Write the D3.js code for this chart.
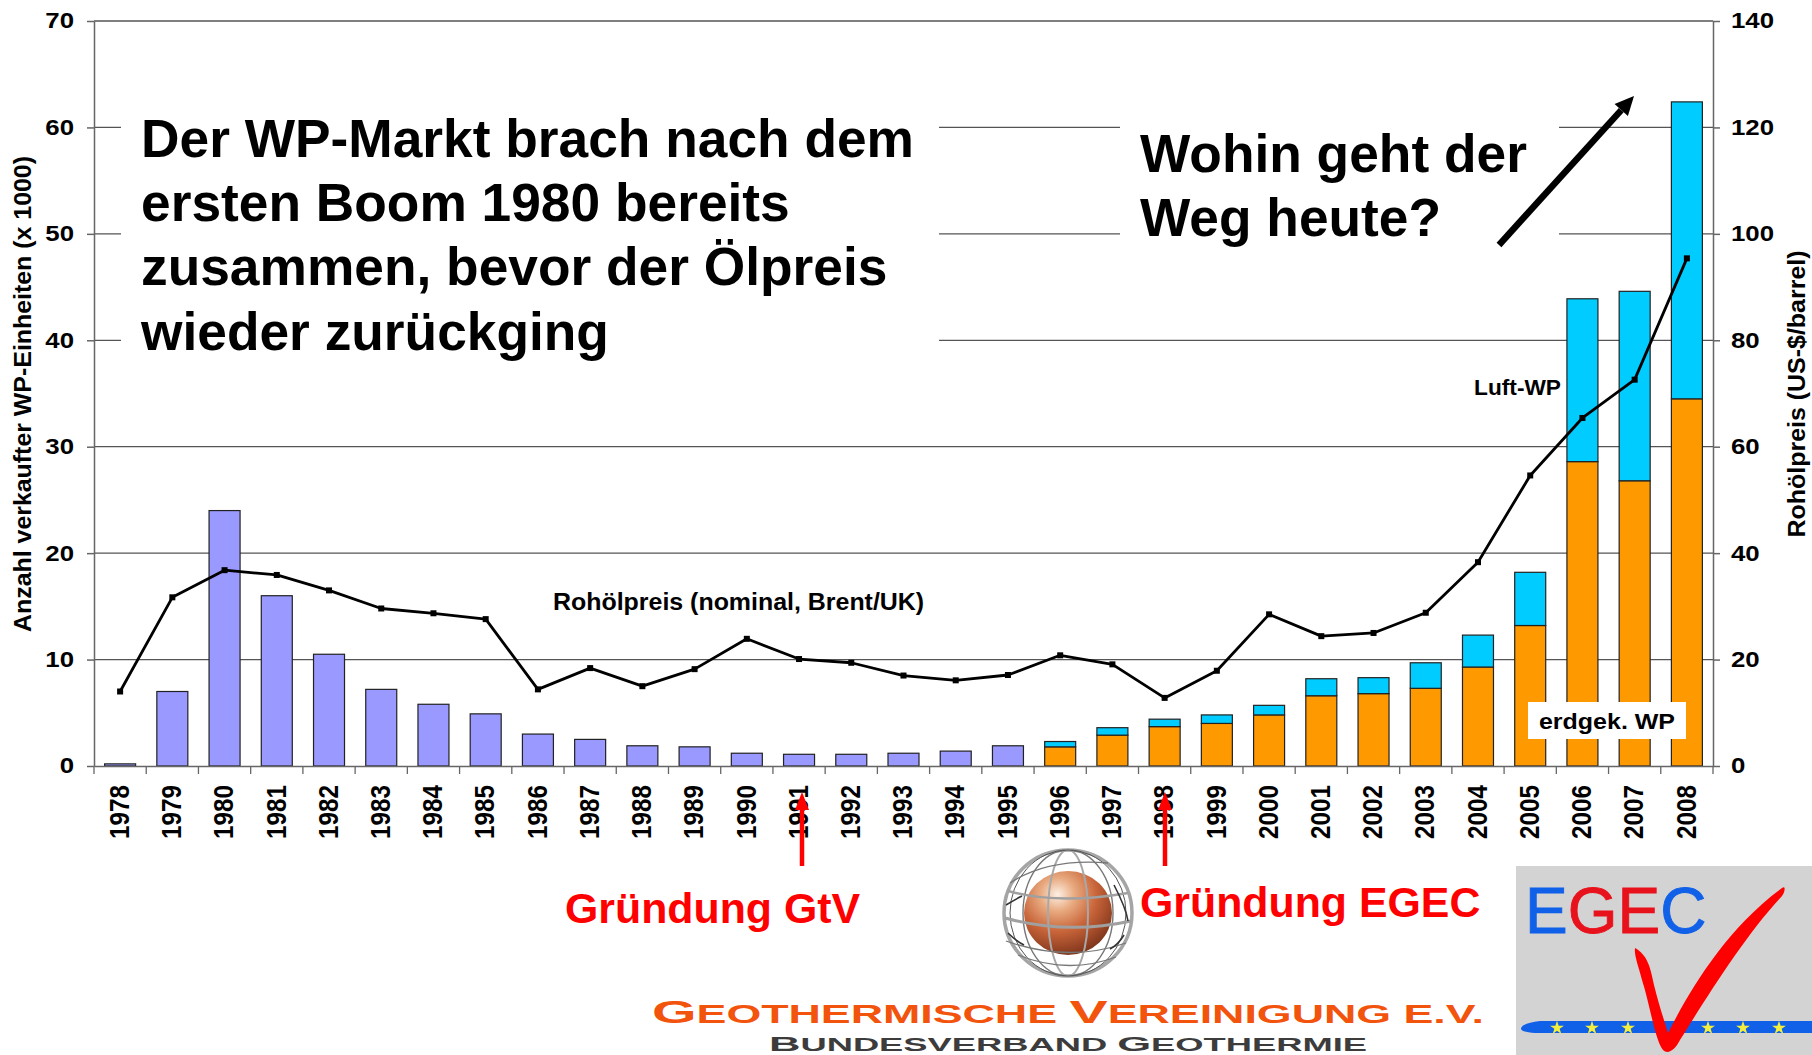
<!DOCTYPE html>
<html><head><meta charset="utf-8">
<script src="https://cdn.jsdelivr.net/npm/d3@7/dist/d3.min.js"></script>
<style>html,body{margin:0;padding:0;background:#fff}svg{display:block}text{font-family:"Liberation Sans",Arial,sans-serif}</style>
</head><body><svg id="c" width="1812" height="1055"></svg>
<script>
const years=["1978","1979","1980","1981","1982","1983","1984","1985","1986","1987","1988","1989","1990","1991","1992","1993","1994","1995","1996","1997","1998","1999","2000","2001","2002","2003","2004","2005","2006","2007","2008"];
const earlyUnits=[0.2,7.0,24.0,16.0,10.5,7.2,5.8,4.9,3.0,2.5,1.9,1.8,1.2,1.1,1.1,1.2,1.4,1.9,0,0,0,0,0,0,0,0,0,0,0,0,0];
const groundSource=[0,0,0,0,0,0,0,0,0,0,0,0,0,0,0,0,0,0,1.8,2.9,3.7,4.0,4.8,6.6,6.8,7.3,9.3,13.2,28.6,26.8,34.5];
const airSource=[0,0,0,0,0,0,0,0,0,0,0,0,0,0,0,0,0,0,0.5,0.7,0.7,0.8,0.9,1.6,1.5,2.4,3.0,5.0,15.3,17.8,27.9];
const oilPrice=[14.0,31.7,36.8,35.9,33.0,29.6,28.7,27.6,14.4,18.4,15.0,18.2,23.9,20.1,19.4,17.0,16.1,17.1,20.8,19.1,12.8,17.9,28.5,24.4,25.0,28.8,38.3,54.6,65.4,72.6,95.4];
const leftTicks=[0,10,20,30,40,50,60,70];
const rightTicks=[0,20,40,60,80,100,120,140];
const stars=[0,1,2,3,4,5];

const L=94,R=1713,T=21,B=766;
const svg=d3.select("#c");
const x=d3.scaleBand().domain(years).range([L,R]).paddingInner(0.405).paddingOuter(0.2);
const step=(R-L)/years.length;
const xc=y=>L+step*(years.indexOf(y)+0.5);
const yL=d3.scaleLinear().domain([0,70]).range([B,T]);
const yR=d3.scaleLinear().domain([0,140]).range([B,T]);
const barW=31;
function stretch(sel,k){sel.each(function(){this.setAttribute("textLength",this.getComputedTextLength()*k);this.setAttribute("lengthAdjust","spacingAndGlyphs");});return sel;}

svg.append("g").selectAll("line").data(leftTicks.slice(1)).join("line")
 .attr("x1",L).attr("x2",R).attr("y1",d=>yL(d)).attr("y2",d=>yL(d)).attr("stroke","#555").attr("stroke-width",1.3);
svg.append("rect").attr("x",121).attr("y",100).attr("width",818).attr("height",270).attr("fill","#fff");
svg.append("rect").attr("x",1120).attr("y",115).attr("width",439).attr("height",130).attr("fill","#fff");

const table=years.map((y,i)=>({year:y,early:earlyUnits[i],ground:groundSource[i],air:airSource[i]}));
const stacked=d3.stack().keys(["early","ground","air"])(table);
const colors={early:"#9999ff",ground:"#ff9900",air:"#00ccff"};
svg.append("g").selectAll("g").data(stacked).join("g").attr("fill",d=>colors[d.key])
 .selectAll("rect").data(d=>d.filter(p=>p[1]>p[0])).join("rect")
 .attr("x",d=>xc(d.data.year)-barW/2).attr("width",barW)
 .attr("y",d=>yL(d[1])).attr("height",d=>yL(d[0])-yL(d[1]))
 .attr("stroke","#222").attr("stroke-width",1.2);

const style=g=>{g.selectAll("path,line").attr("stroke","#666").attr("stroke-width",1.5);
 g.selectAll("text").attr("font-family",'"Liberation Sans",Arial,sans-serif').attr("font-weight","bold").attr("font-size",21.5).attr("fill","#000");};
svg.append("g").attr("transform",`translate(${L},0)`)
 .call(d3.axisLeft(yL).tickValues(leftTicks).tickSize(7).tickPadding(13).tickSizeOuter(0)).call(style)
 .selectAll(".tick text").call(stretch,1.2);
svg.append("g").attr("transform",`translate(${R},0)`)
 .call(d3.axisRight(yR).tickValues(rightTicks).tickSize(7).tickPadding(11).tickSizeOuter(0)).call(style)
 .selectAll(".tick text").call(stretch,1.2);
const xAxis=svg.append("g").attr("transform",`translate(0,${B})`)
 .call(d3.axisBottom(x).tickSize(0).tickSizeOuter(0)).call(style);
xAxis.selectAll(".tick text").attr("font-size",27).attr("transform","rotate(-90)").attr("text-anchor","end").attr("x",-19).attr("y",-1).attr("dy","0.36em");
xAxis.selectAll(".tick text").each(function(){this.setAttribute("textLength",54);this.setAttribute("lengthAdjust","spacingAndGlyphs");});
xAxis.selectAll(".tick").attr("transform",d=>`translate(${xc(d)},0)`);
svg.append("g").selectAll("line").data(d3.range(years.length+1)).join("line")
 .attr("x1",i=>L+i*step).attr("x2",i=>L+i*step).attr("y1",B).attr("y2",B+8).attr("stroke","#666").attr("stroke-width",1.3);

const line=d3.line().x((d,i)=>xc(years[i])).y(d=>yR(d));
svg.append("path").datum(oilPrice).attr("d",line).attr("fill","none").attr("stroke","#000").attr("stroke-width",2.8).attr("stroke-linejoin","round");
svg.append("g").selectAll("rect").data(oilPrice).join("rect")
 .attr("x",(d,i)=>xc(years[i])-3).attr("y",d=>yR(d)-3).attr("width",6).attr("height",6).attr("fill","#000");

function txt(s,xp,yp,size,o={}){const t=svg.append("text").attr("x",xp).attr("y",yp).attr("font-size",size).attr("font-weight",o.w||"bold").attr("fill",o.c||"#000").attr("text-anchor",o.a||"start").text(s);if(o.k)stretch(t,o.k);return t;}

txt("Anzahl verkaufter WP-Einheiten (x 1000)",0,0,24,{a:"middle"}).attr("textLength",476).attr("lengthAdjust","spacingAndGlyphs").attr("transform","translate(31,394) rotate(-90)");
txt("Rohölpreis (US-$/barrel)",0,0,24,{a:"middle"}).attr("textLength",287).attr("lengthAdjust","spacingAndGlyphs").attr("transform","translate(1805,394) rotate(-90)");

["Der WP-Markt brach nach dem","ersten Boom 1980 bereits","zusammen, bevor der Ölpreis","wieder zurückging"].forEach((s,i)=>txt(s,141,157+i*64.2,53.3));
["Wohin geht der","Weg heute?"].forEach((s,i)=>txt(s,1140,172+i*64.2,53.3));

txt("Rohölpreis (nominal, Brent/UK)",553,610,23.3,{k:1.07});
txt("Luft-WP",1561,395,21.5,{a:"end",k:1.055});
svg.append("rect").attr("x",1528).attr("y",702).attr("width",158).attr("height",37).attr("fill","#fff");
txt("erdgek. WP",1607,729,22.5,{a:"middle",k:1.11});

function arrow(x1,y1,x2,y2,col,w,hl,hw){
 const a=Math.atan2(y2-y1,x2-x1),bx=x2-hl*Math.cos(a),by=y2-hl*Math.sin(a),nx=-Math.sin(a)*hw,ny=Math.cos(a)*hw;
 svg.append("line").attr("x1",x1).attr("y1",y1).attr("x2",bx).attr("y2",by).attr("stroke",col).attr("stroke-width",w);
 svg.append("path").attr("d",`M${x2},${y2}L${bx+nx},${by+ny}L${bx-nx},${by-ny}Z`).attr("fill",col);
}
arrow(1499,245,1634,96,"#000",6.5,19,9);
arrow(802,866,802,792,"#f00",4.5,18,7);
arrow(1165,866,1165,792,"#f00",4.5,18,7);
txt("Gründung GtV",565,923,42,{c:"#f00",k:1.02});
txt("Gründung EGEC",1140,917,42,{c:"#f00",k:1.02});

const defs=svg.append("defs");
const grad=defs.append("radialGradient").attr("id","ball").attr("cx","0.38").attr("cy","0.28").attr("r","0.8");
[[0,"#fdf0e4"],[0.25,"#e8a97f"],[0.55,"#c9653a"],[0.85,"#8f3f22"],[1,"#6e3019"]].forEach(s=>grad.append("stop").attr("offset",s[0]).attr("stop-color",s[1]));
const logo=svg.append("g").attr("transform","translate(1068,913)");
logo.append("ellipse").attr("rx",44).attr("ry",42).attr("fill","url(#ball)");
const wire=logo.append("g").attr("fill","none");
[[64,63,"#a5a5a5",3.5],[45,63,"#777",1.4],[20,63,"#a8a8a8",2],[58,63,"#555",1]].forEach(e=>wire.append("ellipse").attr("rx",e[0]).attr("ry",e[1]).attr("stroke",e[2]).attr("stroke-width",e[3]));
wire.append("path").attr("d","M-60,-22Q-10,-8 60,-20").attr("stroke","#a0a0a0").attr("stroke-width",2.5);
wire.append("path").attr("d","M-63,5Q0,22 63,8").attr("stroke","#a0a0a0").attr("stroke-width",3);
wire.append("path").attr("d","M-58,-30Q-20,-55 40,-50M-62,28Q0,50 58,30M-50,42Q0,62 48,44").attr("stroke","#777").attr("stroke-width",1.3);
wire.append("path").attr("d","M-62,-8Q-52,-14 -46,-17M46,-28Q58,-5 60,8M-60,20Q-52,28 -44,32M42,36Q50,32 56,22").attr("stroke","#333").attr("stroke-width",1.6);

function capsText(parts,xp,yp,big,small,col,len){
 const t=svg.append("text").attr("x",xp).attr("y",yp).attr("fill",col).attr("font-weight","bold").attr("font-family","Roboto").attr("textLength",len).attr("lengthAdjust","spacingAndGlyphs");
 parts.forEach(p=>{t.append("tspan").attr("font-size",big).text(p[0]);t.append("tspan").attr("font-size",small).text(p[1]);});
 return t;
}
capsText([["G","EOTHERMISCHE "],["V","EREINIGUNG E.V."]],652,1023,32,25,"#f2530d",832);
capsText([["B","UNDESVERBAND "],["G","EOTHERMIE"]],769,1051,21,17.5,"#3c3c3c",598);

svg.append("rect").attr("x",1516).attr("y",866).attr("width",296).attr("height",189).attr("fill","#d3d3d3");
const eg=svg.append("text").attr("x",1525).attr("y",933).attr("font-size",64).attr("stroke-width",0.9);
[["E","#1060e8"],["GE","#e8121c"],["C","#1060e8"]].forEach(p=>eg.append("tspan").attr("fill",p[1]).attr("stroke",p[1]).text(p[0]));
svg.append("path").attr("d","M1530,1021H1812V1033H1535Q1520,1032 1521,1028Q1523,1023 1540,1021Z").attr("fill","#1060e8");
const star=d3.symbol().type(d3.symbolStar).size(60);
svg.append("g").selectAll("path").data(stars).join("path").attr("d",star)
 .attr("transform",d=>`translate(${[1557,1592,1628,1708,1743,1779][d]},1028)`).attr("fill","#f4ee3c");
svg.append("path").attr("d","M1635,948C1647,955 1650,965 1654,985C1659,1005 1664,1020 1668,1033C1690,990 1725,930 1782,888C1786,885 1785,892 1782,896C1745,935 1705,1000 1680,1040C1675,1050 1668,1055 1663,1050C1655,1040 1650,1005 1642,980C1638,965 1634,955 1635,948Z").attr("fill","#f00");
</script></body></html>
